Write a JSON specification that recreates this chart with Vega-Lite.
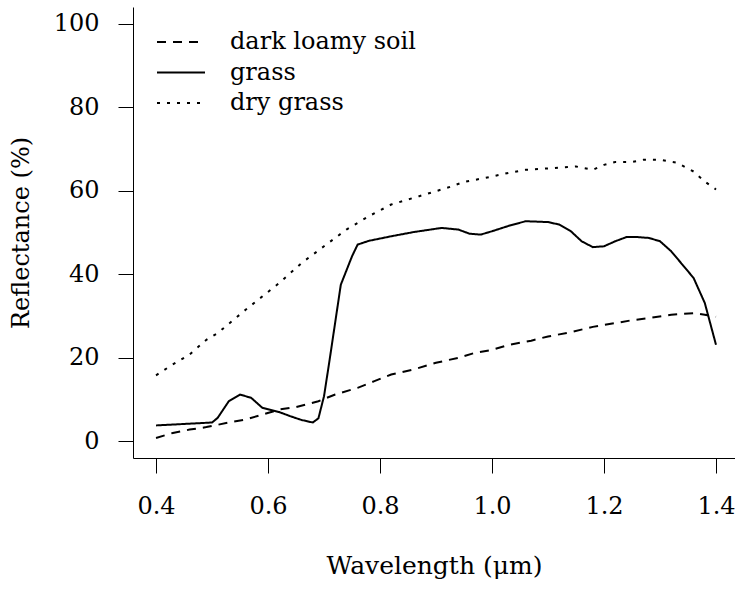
{
  "$schema": "https://vega.github.io/schema/vega-lite/v6.json",
  "width": 602,
  "height": 451,
  "autosize": {"type": "none"},
  "padding": {"left": 133, "top": 7, "right": 0, "bottom": 132},
  "background": "white",
  "config": {"view": {"stroke": null}, "font": "DejaVu Serif"},
  "data": {"values": [
    {"w": 0.40, "r": 0.8, "s": "dark loamy soil"},
    {"w": 0.43, "r": 2.0, "s": "dark loamy soil"},
    {"w": 0.46, "r": 2.8, "s": "dark loamy soil"},
    {"w": 0.49, "r": 3.4, "s": "dark loamy soil"},
    {"w": 0.53, "r": 4.5, "s": "dark loamy soil"},
    {"w": 0.56, "r": 5.2, "s": "dark loamy soil"},
    {"w": 0.59, "r": 6.4, "s": "dark loamy soil"},
    {"w": 0.62, "r": 7.6, "s": "dark loamy soil"},
    {"w": 0.65, "r": 8.2, "s": "dark loamy soil"},
    {"w": 0.69, "r": 9.6, "s": "dark loamy soil"},
    {"w": 0.72, "r": 11.2, "s": "dark loamy soil"},
    {"w": 0.76, "r": 12.8, "s": "dark loamy soil"},
    {"w": 0.79, "r": 14.4, "s": "dark loamy soil"},
    {"w": 0.82, "r": 16.0, "s": "dark loamy soil"},
    {"w": 0.86, "r": 17.2, "s": "dark loamy soil"},
    {"w": 0.90, "r": 18.8, "s": "dark loamy soil"},
    {"w": 0.94, "r": 20.0, "s": "dark loamy soil"},
    {"w": 0.97, "r": 21.2, "s": "dark loamy soil"},
    {"w": 1.00, "r": 21.9, "s": "dark loamy soil"},
    {"w": 1.03, "r": 23.1, "s": "dark loamy soil"},
    {"w": 1.07, "r": 24.1, "s": "dark loamy soil"},
    {"w": 1.10, "r": 25.1, "s": "dark loamy soil"},
    {"w": 1.14, "r": 26.1, "s": "dark loamy soil"},
    {"w": 1.18, "r": 27.4, "s": "dark loamy soil"},
    {"w": 1.22, "r": 28.3, "s": "dark loamy soil"},
    {"w": 1.25, "r": 29.0, "s": "dark loamy soil"},
    {"w": 1.28, "r": 29.5, "s": "dark loamy soil"},
    {"w": 1.32, "r": 30.3, "s": "dark loamy soil"},
    {"w": 1.36, "r": 30.7, "s": "dark loamy soil"},
    {"w": 1.38, "r": 30.3, "s": "dark loamy soil"},
    {"w": 1.40, "r": 29.8, "s": "dark loamy soil"},
    {"w": 0.40, "r": 3.8, "s": "grass"},
    {"w": 0.50, "r": 4.5, "s": "grass"},
    {"w": 0.51, "r": 5.6, "s": "grass"},
    {"w": 0.53, "r": 9.6, "s": "grass"},
    {"w": 0.55, "r": 11.2, "s": "grass"},
    {"w": 0.57, "r": 10.4, "s": "grass"},
    {"w": 0.59, "r": 8.0, "s": "grass"},
    {"w": 0.62, "r": 7.0, "s": "grass"},
    {"w": 0.64, "r": 6.0, "s": "grass"},
    {"w": 0.66, "r": 5.1, "s": "grass"},
    {"w": 0.68, "r": 4.5, "s": "grass"},
    {"w": 0.69, "r": 5.5, "s": "grass"},
    {"w": 0.70, "r": 10.8, "s": "grass"},
    {"w": 0.71, "r": 19.5, "s": "grass"},
    {"w": 0.72, "r": 28.5, "s": "grass"},
    {"w": 0.73, "r": 37.5, "s": "grass"},
    {"w": 0.75, "r": 44.3, "s": "grass"},
    {"w": 0.76, "r": 47.1, "s": "grass"},
    {"w": 0.78, "r": 48.0, "s": "grass"},
    {"w": 0.82, "r": 49.1, "s": "grass"},
    {"w": 0.86, "r": 50.1, "s": "grass"},
    {"w": 0.91, "r": 51.1, "s": "grass"},
    {"w": 0.94, "r": 50.7, "s": "grass"},
    {"w": 0.96, "r": 49.7, "s": "grass"},
    {"w": 0.98, "r": 49.5, "s": "grass"},
    {"w": 1.00, "r": 50.3, "s": "grass"},
    {"w": 1.03, "r": 51.6, "s": "grass"},
    {"w": 1.06, "r": 52.7, "s": "grass"},
    {"w": 1.10, "r": 52.5, "s": "grass"},
    {"w": 1.12, "r": 51.9, "s": "grass"},
    {"w": 1.14, "r": 50.4, "s": "grass"},
    {"w": 1.16, "r": 47.9, "s": "grass"},
    {"w": 1.18, "r": 46.5, "s": "grass"},
    {"w": 1.20, "r": 46.7, "s": "grass"},
    {"w": 1.22, "r": 47.9, "s": "grass"},
    {"w": 1.24, "r": 48.9, "s": "grass"},
    {"w": 1.26, "r": 48.9, "s": "grass"},
    {"w": 1.28, "r": 48.7, "s": "grass"},
    {"w": 1.30, "r": 47.9, "s": "grass"},
    {"w": 1.32, "r": 45.5, "s": "grass"},
    {"w": 1.34, "r": 42.3, "s": "grass"},
    {"w": 1.36, "r": 39.1, "s": "grass"},
    {"w": 1.38, "r": 33.1, "s": "grass"},
    {"w": 1.40, "r": 23.1, "s": "grass"},
    {"w": 0.40, "r": 15.8, "s": "dry grass"},
    {"w": 0.43, "r": 18.4, "s": "dry grass"},
    {"w": 0.46, "r": 20.8, "s": "dry grass"},
    {"w": 0.49, "r": 24.3, "s": "dry grass"},
    {"w": 0.51, "r": 25.9, "s": "dry grass"},
    {"w": 0.56, "r": 31.5, "s": "dry grass"},
    {"w": 0.62, "r": 37.9, "s": "dry grass"},
    {"w": 0.66, "r": 42.7, "s": "dry grass"},
    {"w": 0.70, "r": 46.7, "s": "dry grass"},
    {"w": 0.74, "r": 50.7, "s": "dry grass"},
    {"w": 0.78, "r": 53.9, "s": "dry grass"},
    {"w": 0.82, "r": 56.7, "s": "dry grass"},
    {"w": 0.87, "r": 58.7, "s": "dry grass"},
    {"w": 0.92, "r": 60.7, "s": "dry grass"},
    {"w": 0.95, "r": 62.1, "s": "dry grass"},
    {"w": 1.00, "r": 63.4, "s": "dry grass"},
    {"w": 1.03, "r": 64.3, "s": "dry grass"},
    {"w": 1.06, "r": 65.0, "s": "dry grass"},
    {"w": 1.15, "r": 65.8, "s": "dry grass"},
    {"w": 1.18, "r": 65.0, "s": "dry grass"},
    {"w": 1.20, "r": 66.2, "s": "dry grass"},
    {"w": 1.22, "r": 66.9, "s": "dry grass"},
    {"w": 1.25, "r": 66.9, "s": "dry grass"},
    {"w": 1.27, "r": 67.4, "s": "dry grass"},
    {"w": 1.30, "r": 67.4, "s": "dry grass"},
    {"w": 1.33, "r": 66.7, "s": "dry grass"},
    {"w": 1.36, "r": 64.6, "s": "dry grass"},
    {"w": 1.38, "r": 62.2, "s": "dry grass"},
    {"w": 1.40, "r": 60.3, "s": "dry grass"}
  ]},
  "mark": {"type": "line", "color": "black", "strokeWidth": 2, "clip": true},
  "encoding": {
    "x": {
      "field": "w", "type": "quantitative",
      "scale": {"domain": [0.3589, 1.4339], "nice": false, "zero": false},
      "axis": {
        "title": "Wavelength (μm)",
        "values": [0.4, 0.6, 0.8, 1.0, 1.2, 1.4],
        "format": ".1f",
        "grid": false,
        "domainColor": "black", "domainWidth": 1,
        "tickColor": "black", "tickSize": 15, "tickWidth": 1,
        "labelFont": "DejaVu Serif", "labelFontSize": 24, "labelColor": "black",
        "labelPadding": 21, "labelFlush": false, "labelOverlap": false,
        "titleFont": "DejaVu Serif", "titleFontSize": 25, "titleFontWeight": "normal",
        "titleColor": "black", "titleY": 115, "titleBaseline": "alphabetic"
      }
    },
    "y": {
      "field": "r", "type": "quantitative",
      "scale": {"domain": [-4, 104], "nice": false, "zero": false},
      "axis": {
        "title": "Reflectance (%)",
        "values": [0, 20, 40, 60, 80, 100],
        "format": "d",
        "grid": false,
        "domainColor": "black", "domainWidth": 1,
        "tickColor": "black", "tickSize": 15, "tickWidth": 1,
        "labelFont": "DejaVu Serif", "labelFontSize": 24, "labelColor": "black",
        "labelPadding": 19, "labelFlush": false, "labelOverlap": false,
        "titleFont": "DejaVu Serif", "titleFontSize": 24, "titleFontWeight": "normal",
        "titleColor": "black", "titleX": -105, "titleY": 225.5, "titleBaseline": "alphabetic"
      }
    },
    "strokeDash": {
      "field": "s", "type": "nominal",
      "scale": {"domain": ["dark loamy soil", "grass", "dry grass"], "range": [[9, 7], [1, 0], [3, 7]]},
      "legend": {
        "title": null, "orient": "none", "legendX": 35, "legendY": 22,
        "padding": 0, "symbolType": "M-2,0H2", "symbolSize": 576,
        "symbolStrokeWidth": 2, "symbolStrokeColor": "black", "symbolFillColor": "transparent",
        "labelFont": "DejaVu Serif", "labelFontSize": 24, "labelColor": "black",
        "labelOffset": 36, "labelLimit": 0, "rowPadding": 5.5
      }
    }
  }
}
